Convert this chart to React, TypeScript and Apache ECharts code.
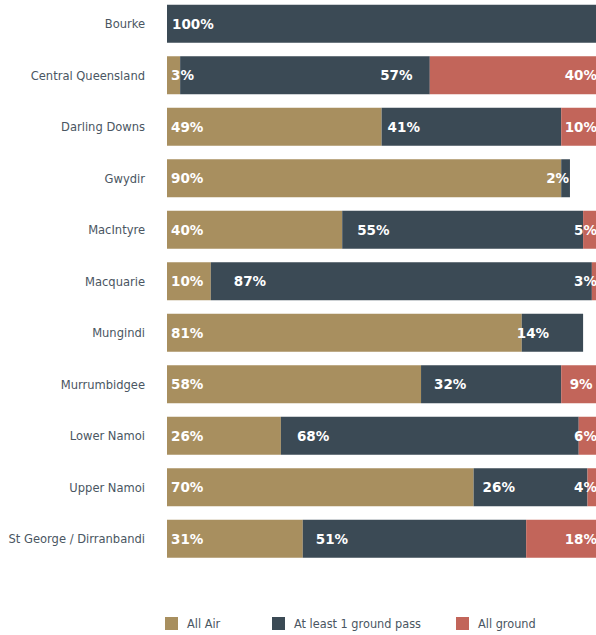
import React, { useEffect, useRef } from "react";
import * as echarts from "echarts";

const categories = [
  "Bourke",
  "Central Queensland",
  "Darling Downs",
  "Gwydir",
  "MacIntyre",
  "Macquarie",
  "Mungindi",
  "Murrumbidgee",
  "Lower Namoi",
  "Upper Namoi",
  "St George / Dirranbandi",
];
const allAir = [0, 3, 49, 90, 40, 10, 81, 58, 26, 70, 31];
const atLeastOneGround = [100, 57, 41, 2, 55, 87, 14, 32, 68, 26, 51];
const allGround = [0, 40, 10, 0, 5, 3, 0, 9, 6, 4, 18];
const seriesNames = ["All Air", "At least 1 ground pass", "All ground"];

// label style tweaks (horizontal shift of the dark segment labels, in px)
const darkLabelShift = [0, 195, 1, -20, 10, 18, -10, 8, 11, 4, 8];

const COLORS = ["#a88f5f", "#3b4a55", "#c2655a"];
const AXIS_FONT = "'DejaVu Sans Condensed', 'Liberation Sans Narrow', sans-serif";
const LABEL_FONT = "'DejaVu Sans', Verdana, sans-serif";

export default function App() {
  const ref = useRef<HTMLDivElement>(null);

  useEffect(() => {
    if (!ref.current) return;
    const chart = echarts.init(ref.current, undefined, { renderer: "svg" });

    const baseLabel = {
      show: true,
      color: "#ffffff",
      fontFamily: LABEL_FONT,
      fontWeight: "bold" as const,
      fontSize: 13.5,
      formatter: (p: any) => (p.value > 0 ? p.value + "%" : ""),
    };

    const makeData = (vals: number[], extra?: (i: number) => any) =>
      vals.map((v, i) => {
        const item: any = { value: v };
        if (v <= 0) item.label = { show: false };
        else if (extra) item.label = extra(i);
        return item;
      });

    const option: any = {
      animation: false,
      grid: {
        left: 167,
        right: -9,
        top: -2,
        bottom: 70.5,
        containLabel: false,
        outerBoundsMode: "none",
      },
      xAxis: { type: "value", min: 0, max: 100, show: false },
      yAxis: {
        type: "category",
        data: categories,
        inverse: true,
        axisLine: { show: false },
        axisTick: { show: false },
        splitLine: { show: false },
        axisLabel: {
          margin: 22,
          color: "#4a5662",
          fontFamily: AXIS_FONT,
          fontSize: 12.8,
        },
      },
      legend: [0, 1, 2].map((i) => ({
        data: [seriesNames[i]],
        left: [165, 272, 456][i],
        top: 617,
        padding: 0,
        icon: "rect",
        itemWidth: 13,
        itemHeight: 13,
        selectedMode: false,
        textStyle: {
          color: "#4a5662",
          fontFamily: AXIS_FONT,
          fontSize: 12.6,
          padding: [0, 0, 0, 4],
        },
      })),
      series: [
        {
          name: seriesNames[0],
          type: "bar",
          stack: "total",
          barWidth: 38,
          itemStyle: { color: COLORS[0] },
          label: { ...baseLabel, position: "insideLeft", distance: 4 },
          data: makeData(allAir),
        },
        {
          name: seriesNames[1],
          type: "bar",
          stack: "total",
          barWidth: 38,
          itemStyle: { color: COLORS[1] },
          label: { ...baseLabel, position: "insideLeft", distance: 5 },
          data: makeData(atLeastOneGround, (i) => ({ offset: [darkLabelShift[i], 0] })),
        },
        {
          name: seriesNames[2],
          type: "bar",
          stack: "total",
          barWidth: 38,
          itemStyle: { color: COLORS[2] },
          label: { ...baseLabel, position: "insideRight", distance: 8 },
          data: makeData(allGround),
        },
      ],
    };

    chart.setOption(option);
    return () => chart.dispose();
  }, []);

  return <div ref={ref} style={{ width: 596, height: 635, position: "absolute", left: 0, top: 0 }} />;
}
